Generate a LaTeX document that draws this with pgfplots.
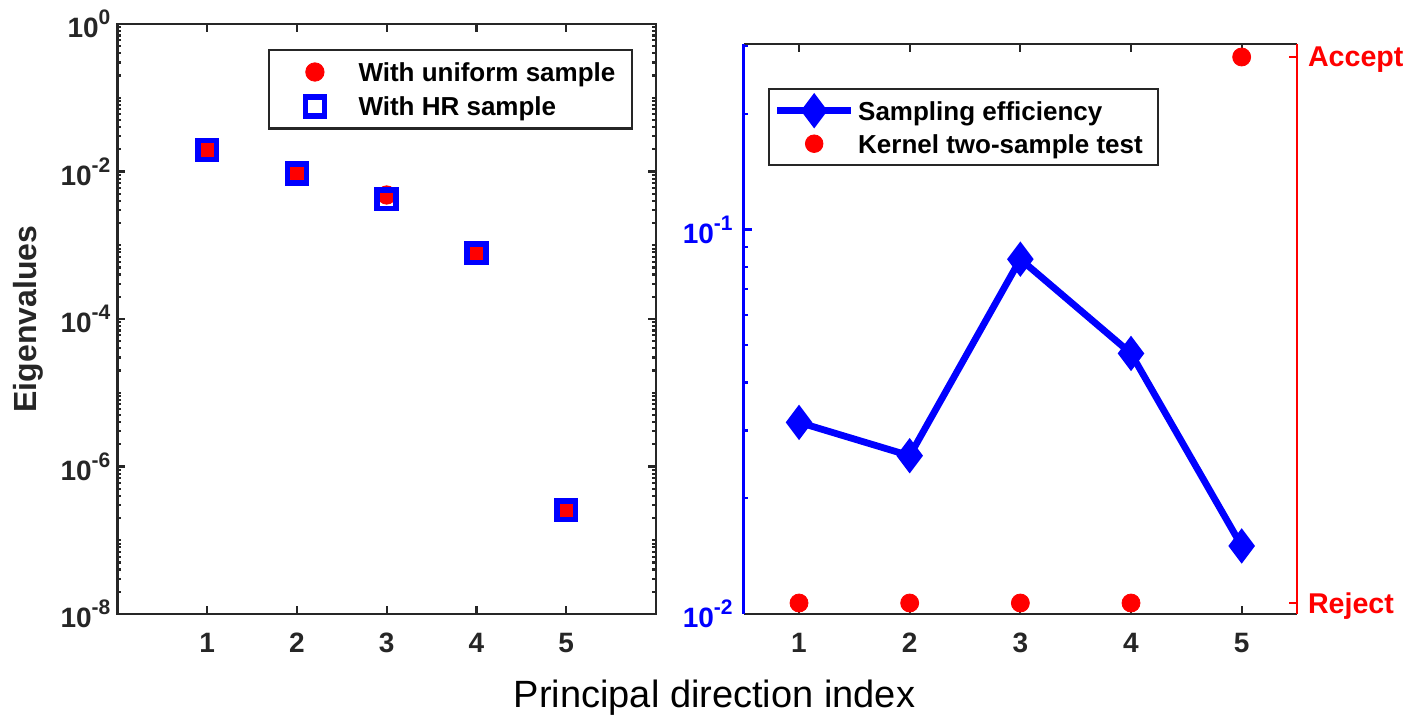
\documentclass[border=0pt]{standalone}
\usepackage{pgfplots}
\pgfplotsset{compat=1.18}
\usepackage{fontspec}
\setmainfont{Liberation Sans}
\definecolor{axgray}{RGB}{38,38,38}
\newcommand{\tsup}[1]{\raisebox{6.5pt}{\fontsize{10.5}{10.5}\selectfont #1}}
\begin{document}
\begin{tikzpicture}
\path[use as bounding box] (0,0) rectangle (705pt,358pt);
% ---------------- left panel ----------------
\begin{axis}[
  at={(58.7pt,51pt)}, anchor=south west, scale only axis,
  width=269.3pt, height=295pt,
  xmin=0, xmax=6, ymode=log, ymin=1e-8, ymax=1,
  xtick={1,2,3,4,5}, xticklabels={1,2,3,4,5},
  ytick={1e-8,1e-6,1e-4,1e-2,1},
  yticklabels={10\tsup{-8},10\tsup{-6},10\tsup{-4},10\tsup{-2},10\tsup{0}},
  minor ytick={2e-8,3e-8,4e-8,5e-8,6e-8,7e-8,8e-8,9e-8,1e-7,2e-7,3e-7,4e-7,5e-7,6e-7,7e-7,8e-7,9e-7,2e-6,3e-6,4e-6,5e-6,6e-6,7e-6,8e-6,9e-6,1e-5,2e-5,3e-5,4e-5,5e-5,6e-5,7e-5,8e-5,9e-5,2e-4,3e-4,4e-4,5e-4,6e-4,7e-4,8e-4,9e-4,1e-3,2e-3,3e-3,4e-3,5e-3,6e-3,7e-3,8e-3,9e-3,2e-2,3e-2,4e-2,5e-2,6e-2,7e-2,8e-2,9e-2,1e-1,2e-1,3e-1,4e-1,5e-1,6e-1,7e-1,8e-1,9e-1},
  axis line style={axgray, line width=1.3pt},
  every tick/.append style={axgray, line width=1.1pt},
  major tick length=4pt, minor tick length=2pt,
  tick label style={font=\fontsize{14}{14}\selectfont\bfseries, text=axgray},
  xticklabel style={yshift=-5.9pt},
  ylabel={Eigenvalues},
  ylabel style={at={(axis description cs:-0.1660,0.5)}, anchor=center, font=\fontsize{16}{16}\selectfont\bfseries, text=axgray},
  legend cell align=left,
  legend style={at={(0.9573,0.9576)}, anchor=north east, draw=axgray, line width=1.2pt, fill=white,
    inner xsep=4.7pt, inner ysep=6.25pt, row sep=8pt,
    font=\fontsize{13}{13}\selectfont\bfseries, text=black,
    nodes={inner xsep=3.5pt, inner ysep=0pt, text height=9.3pt, text depth=0pt}},
  legend image code/.code={
    \path[draw=none, fill=none] (0pt,-4.5pt) rectangle (36.6pt,4.5pt);
    \pgfinterruptboundingbox
    \draw[mark repeat=2,mark phase=2,#1] plot coordinates {(0pt,0pt) (18.3pt,0pt) (36.6pt,0pt)};
    \endpgfinterruptboundingbox
  },
]
\addplot[only marks, mark=*, mark size=4.6pt, mark options={draw=red, fill=red, line width=0.4pt}]
  coordinates {(1,0.0196) (2,0.00944) (3,0.0048) (4,7.8e-4) (5,2.56e-7)};
\addlegendentry{With uniform sample}
\addplot[only marks, mark=square, mark size=4.7pt, mark options={draw=blue, fill=none, line width=2.8pt}]
  coordinates {(1,0.0196) (2,0.00944) (3,0.0042) (4,7.8e-4) (5,2.56e-7)};
\addlegendentry{With HR sample}
\end{axis}
% ---------------- right panel: blue log axis ----------------
\begin{axis}[
  at={(371.85pt,51pt)}, anchor=south west, scale only axis,
  width=276.65pt, height=285pt,
  xmin=0.5, xmax=5.5, ymode=log, ymin=0.01, ymax=0.3036,
  axis x line*=box, axis y line*=left,
  xtick={1,2,3,4,5}, xticklabels={1,2,3,4,5},
  ytick={0.01,0.1}, yticklabels={10\tsup{-2},10\tsup{-1}},
  minor ytick={0.02,0.03,0.04,0.05,0.06,0.07,0.08,0.09,0.2,0.3},
  x axis line style={-, axgray, line width=1.3pt},
  y axis line style={-, blue, line width=1.3pt},
  every x tick/.append style={axgray, line width=1.1pt},
  every y tick/.append style={blue, line width=1.1pt},
  every minor y tick/.append style={blue, line width=1.1pt},
  major tick length=4pt, minor tick length=2pt,
  tick label style={font=\fontsize{14}{14}\selectfont\bfseries},
  xticklabel style={yshift=-5.9pt, text=axgray},
  yticklabel style={xshift=-2pt, text=blue},
  legend cell align=left,
  legend style={at={(0.0439,0.9228)}, anchor=north west, draw=axgray, line width=1.2pt, fill=white,
    inner xsep=4pt, inner ysep=6.1pt, row sep=7.2pt,
    font=\fontsize{13}{13}\selectfont\bfseries, text=black,
    nodes={inner xsep=3.5pt, inner ysep=0pt, text height=9.3pt, text depth=0pt}},
  legend image code/.code={
    \path[draw=none, fill=none] (0pt,-4.5pt) rectangle (37pt,4.5pt);
    \pgfinterruptboundingbox
    \draw[mark repeat=2,mark phase=2,#1] plot coordinates {(0pt,0pt) (18.5pt,0pt) (37pt,0pt)};
    \endpgfinterruptboundingbox
  },
]
\addplot[blue, line width=3.4pt, mark=diamond*, mark size=8.2pt, mark options={solid, draw=blue, fill=blue, line width=0.8pt}]
  coordinates {(1,0.0315) (2,0.0258) (3,0.0837) (4,0.0476) (5,0.01503)};
\addlegendentry{Sampling efficiency}
\addlegendimage{only marks, mark=*, mark size=4.4pt, mark options={draw=red, fill=red, line width=0.4pt}}
\addlegendentry{Kernel two-sample test}
\end{axis}
% ---------------- right panel: red accept/reject axis ----------------
\begin{axis}[
  at={(371.85pt,51pt)}, anchor=south west, scale only axis,
  width=276.65pt, height=285pt,
  xmin=0.5, xmax=5.5, ymin=-0.0201, ymax=1.0238,
  axis x line=none, axis y line*=right,
  ytick={0,1}, yticklabels={Reject,Accept},
  y axis line style={-, red, line width=1.3pt},
  every y tick/.append style={red, line width=1.1pt},
  major tick length=4pt,
  yticklabel style={font=\fontsize{14.3}{14.3}\selectfont\bfseries, text=red, xshift=2pt, text depth=0pt},
]
\addplot[only marks, mark=*, mark size=4.5pt, mark options={draw=red, fill=red, line width=0.4pt}]
  coordinates {(1,0) (2,0) (3,0) (4,0) (5,1)};
\end{axis}
\node[anchor=base, font=\fontsize{19}{19}\selectfont] at (357.25pt,4pt) {Principal direction index};
\end{tikzpicture}
\end{document}
